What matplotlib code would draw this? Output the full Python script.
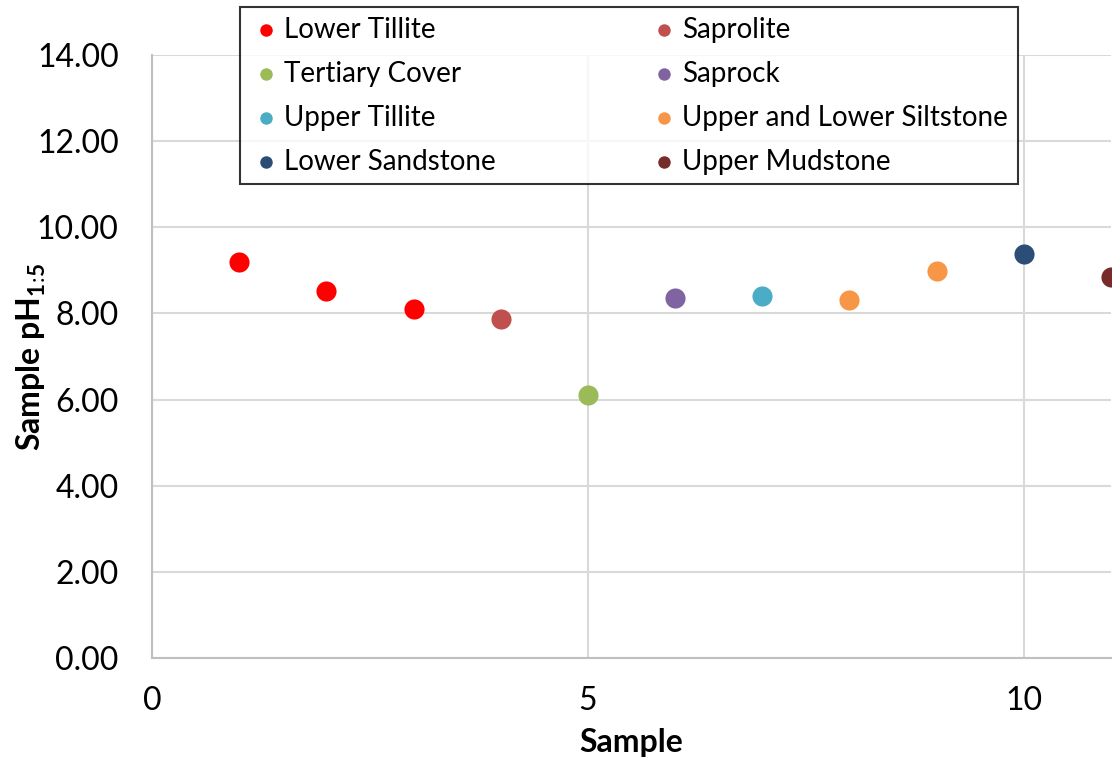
import matplotlib
matplotlib.use('Agg')
from matplotlib import pyplot as plt

plt.rcParams['font.family'] = ['Lato', 'DejaVu Sans']
plt.rcParams['mathtext.fontset'] = 'custom'
plt.rcParams['mathtext.bf'] = 'Lato:bold'
plt.rcParams['mathtext.rm'] = 'Lato'

# series data
names = ['Lower Tillite', 'Saprolite', 'Tertiary Cover', 'Saprock',
         'Upper Tillite', 'Upper and Lower Siltstone', 'Lower Sandstone',
         'Upper Mudstone']
colors = ['#FF0000', '#C0504D', '#9BBB59', '#8064A2',
          '#4BACC6', '#F79646', '#2C4D75', '#772C2A']
xs = [[1, 2, 3], [4], [5], [6], [7], [8, 9], [10], [11]]
ys = [[9.19, 8.52, 8.10], [7.87], [6.11], [8.36], [8.40],
      [8.31, 8.99], [9.38], [8.85]]
yticks = [0, 2, 4, 6, 8, 10, 12, 14]
xticks = [0, 5, 10]

fig = plt.figure(figsize=(11.16, 7.62), dpi=100)
ax = fig.add_axes([0.1362, 0.1365, 0.8593, 0.7913])

handles = []
for name, c, x, y in zip(names, colors, xs, ys):
    h = ax.scatter(x, y, s=210, color=c, label=name, zorder=3, linewidths=0)
    handles.append(h)

ax.set_xlim(0, 11)
ax.set_ylim(0, 14)
ax.set_xticks(xticks)
ax.set_yticks(yticks)
ax.set_yticklabels(['%.2f' % v for v in yticks])
ax.grid(True, color='#D9D9D9', linewidth=1.5)
ax.set_axisbelow(True)
for s in ['top', 'right']:
    ax.spines[s].set_visible(False)
for s in ['left', 'bottom']:
    ax.spines[s].set_color('#BFBFBF')
    ax.spines[s].set_linewidth(1.5)
ax.tick_params(length=0, labelsize=23)
ax.tick_params(axis='x', pad=20)
ax.tick_params(axis='y', pad=24)

ax.set_xlabel('Sample', fontsize=23, fontweight='bold', labelpad=9)
ax.set_ylabel(r'Sample pH$_{\mathbf{1}\!:\!\mathbf{5}}$', fontsize=23,
              fontweight='bold', labelpad=-8)

# legend order goes row by row across two columns
order = [0, 2, 4, 6, 1, 3, 5, 7]
leg = fig.legend([handles[i] for i in order], [names[i] for i in order],
                 ncol=2, loc='upper left', bbox_to_anchor=(0.215, 0.991),
                 borderaxespad=0, fontsize=20, frameon=True, fancybox=False,
                 markerscale=0.62, handletextpad=0.05, columnspacing=5.45,
                 labelspacing=0.65, borderpad=0.35, handlelength=1.2)
leg.get_frame().set_edgecolor('black')
leg.get_frame().set_linewidth(1.5)

fig.savefig('out.png', dpi=100)
